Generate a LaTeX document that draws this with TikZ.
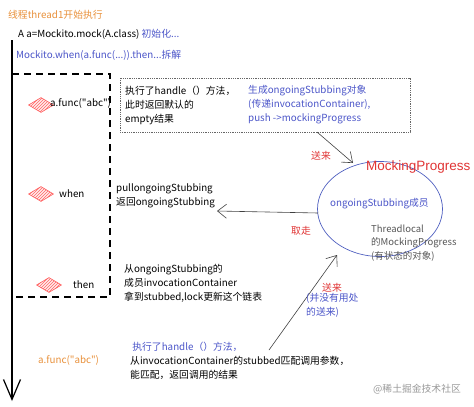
\documentclass[tikz,border=0pt]{standalone}
\usepackage{fontspec}
\setmainfont{Noto Sans CJK SC}
\newfontfamily\plainf{Noto Sans CJK SC}
\newfontfamily\headfont{Liberation Sans}
\usetikzlibrary{arrows.meta,shapes.geometric,patterns}
\definecolor{orng}{HTML}{E8903A}
\definecolor{blu}{HTML}{4B55C8}
\definecolor{redt}{HTML}{E03434}
\definecolor{grayt}{HTML}{555555}
\definecolor{ellc}{HTML}{5060C0}
\begin{document}
\begin{tikzpicture}[x=1pt,y=-1pt,
  txt/.style={anchor=west,inner sep=0pt,align=left,font=\plainf\fontsize{9.8}{14}\selectfont},
  diamark/.style={diamond,draw=red!65,line width=0.6pt,preaction={fill=red!8},pattern=north east lines,pattern color=red!60,minimum width=25pt,minimum height=15pt,inner sep=0pt},
  barb/.style={-{Straight Barb[length=9pt,width=14pt]}},
  conn/.style={draw=black!75,line width=0.6pt,barb}]
\useasboundingbox (0,0) rectangle (474,407);

% header texts
\node[txt,text=orng] (title) at (8,15) {线程thread1开始执行};
\node[txt] (mock) at (18,34) {A a=Mockito.mock(A.class) \textcolor{blu}{初始化...}};
\node[txt,text=blu] (when) at (16,55) {Mockito.when(a.func(...)).then...拆解};

% time axis
\coordinate (axtop) at (12,40);
\coordinate (axbot) at (12,401);
\draw[line width=1.6pt,-{Straight Barb[length=20pt,width=17pt,line width=1.2pt]}] (axtop) -- (axbot);

% dashed group
\draw[line width=1.3pt,dash pattern=on 7pt off 5pt] (12,74) -- (110,74) -- (110,297) -- (12,297);

% diamonds
\node[diamark] (d1) at (41,105) {};
\node[diamark] (d2) at (41,194) {};
\node[diamark] (d3) at (49,285) {};
\node[txt] (l1) at (50,103) {a.func("abc")};
\node[txt] (l2) at (59,194) {when};
\node[txt] (l3) at (73,285) {then};

% dotted box
\draw[densely dotted,line width=0.8pt,draw=black!60] (120,78) rectangle (410,132);
\node[txt] (box1) at (125,105) {执行了handle（）方法，\\此时返回默认的\\empty结果};
\node[txt,text=blu] (box2) at (248,105) {生成ongoingStubbing对象\\(传递invocationContainer),\\push ->mockingProgress};
\coordinate (boxout) at (317,132);

% ellipse
\node[ellipse,draw=ellc,line width=0.7pt,minimum width=125pt,minimum height=95pt,inner sep=0pt] (mp) at (380,209) {};
\node[txt,text=redt,font=\headfont\fontsize{13.5}{16}\selectfont] (mptitle) at (366,167) {MockingProgress};
\node[txt,text=blu] (member) at (330,204) {ongoingStubbing成员};
\node[txt,text=grayt,font=\plainf\fontsize{9.5}{13.5}\selectfont] (tl) at (371,243) {Threadlocal\\的MockingProgress\\(有状态的对象)};

% arrows to/from ellipse
\draw[conn] (boxout) -- (353,163);
\node[txt,text=redt] (send1) at (311,156) {送来};

\node[txt] (pull) at (116,196) {pullongoingStubbing\\返回ongoingStubbing};
\draw[conn] (318,213) -- (217,211);
\node[txt,text=redt] (take) at (291,231) {取走};

\node[txt] (then) at (124,283) {从ongoingStubbing的\\成员invocationContainer\\拿到stubbed,lock更新这个链表};

\node[txt,text=orng] (call) at (38,360) {a.func("abc")};
\node[txt] (exec) at (130,361) {\textcolor{blu}{\ 执行了handle（）方法，}\\从invocationContainer的stubbed匹配调用参数，\\能匹配，返回调用的结果};

\coordinate (execout) at (269,350);
\draw[conn] (execout) -- (337,255);
\node[txt,text=redt] (send2) at (322,288) {送来};
\node[txt,text=blu] (useless) at (306,305) {(并没有用处\\的送来)};

\node[txt,text=black!40] (wm) at (373,389) {@稀土掘金技术社区};
\end{tikzpicture}
\end{document}
